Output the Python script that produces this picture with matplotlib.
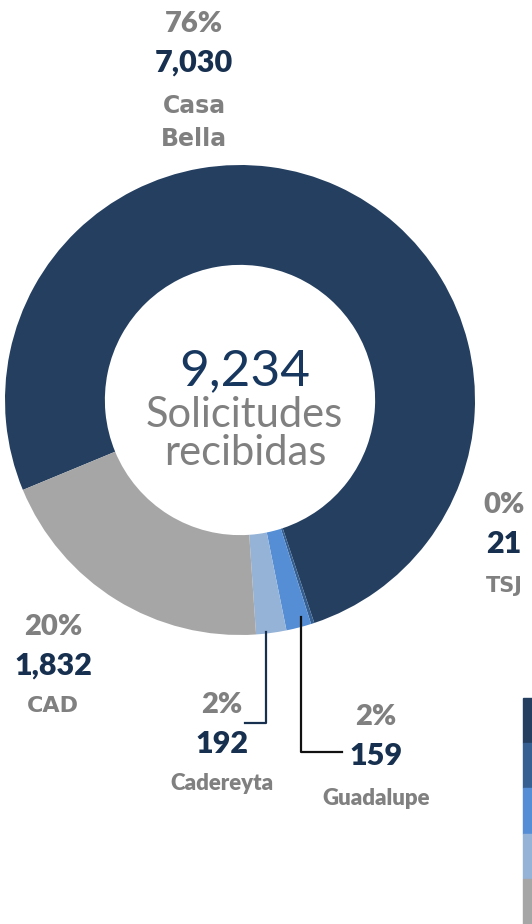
import matplotlib.pyplot as plt
from matplotlib.patches import Rectangle
from matplotlib.lines import Line2D

# Datos
sedes = ['Casa Bella', 'TSJ', 'Guadalupe', 'Cadereyta', 'CAD']
solicitudes = [7030, 21, 159, 192, 1832]
colores = ['#243F60', '#366092', '#558ED5', '#95B3D7', '#A6A6A6']
total = sum(solicitudes)

W, H = 532, 924
NAVY = '#17304F'
GRIS = '#808080'

fig = plt.figure(figsize=(W / 100, H / 100), dpi=100)


def px(x, y):
    # pixeles (desde arriba-izquierda) a coordenadas de figura
    return x / W, 1 - y / H


# Dona: centro (240, 400), radio 235 px
cx, cy, r = 240, 400, 235
ax = fig.add_axes([(cx - r) / W, 1 - (cy + r) / H, 2 * r / W, 2 * r / H])
ax.pie(solicitudes, colors=colores, startangle=202.5, counterclock=False,
       radius=1, wedgeprops=dict(width=0.425, linewidth=0))
ax.set_xlim(-1, 1)
ax.set_ylim(-1, 1)
ax.set_aspect('equal')
ax.axis('off')

# Texto central
fig.text(*px(245, 385), f'{total:,}', ha='center', va='baseline',
         fontsize=37, color='#17375E', family='Lato', weight='normal')
fig.text(*px(244, 427), 'Solicitudes', ha='center', va='baseline',
         fontsize=30, color=GRIS, family='Lato', weight='normal')
fig.text(*px(245, 465), 'recibidas', ha='center', va='baseline',
         fontsize=30, color=GRIS, family='Lato', weight='normal')

# Etiquetas de cada sede: (x centro, baseline %, baseline valor, baselines nombre, tamaño, fuente)
etiquetas = {
    'Casa Bella': (194, 32, 72, [(113, 'Casa'), (146, 'Bella')], 17, 'DejaVu Sans'),
    'TSJ': (504, 513, 553, [(592, 'TSJ')], 15, 'DejaVu Sans'),
    'CAD': (53, 635, 675, [(712, 'CAD')], 16, 'DejaVu Sans'),
    'Cadereyta': (222, 713, 753, [(790, 'Cadereyta')], 16, 'Lato'),
    'Guadalupe': (376, 725, 765, [(805, 'Guadalupe')], 16, 'Lato'),
}
for sede, valor in zip(sedes, solicitudes):
    x, yp, yv, nombres, fs, fam = etiquetas[sede]
    pct = round(100 * valor / total)
    fig.text(*px(x, yp), f'{pct}%', ha='center', va='baseline',
             fontsize=21, color=GRIS, family='Lato', weight='heavy')
    fig.text(*px(x, yv), f'{valor:,}', ha='center', va='baseline',
             fontsize=22, color=NAVY, family='Lato', weight='heavy')
    for yn, txt in nombres:
        fig.text(*px(x, yn), txt, ha='center', va='baseline',
                 fontsize=fs, color=GRIS, family=fam,
                 weight='bold' if fam == 'DejaVu Sans' else 'heavy')

# Lineas guia
for xs, ys, c in [([266, 266, 245], [632, 723, 723], '#17304F'),
                  ([301, 301, 342], [617, 752, 752], '#111111')]:
    fx = [x / W for x in xs]
    fy = [1 - y / H for y in ys]
    fig.add_artist(Line2D(fx, fy, color=c, lw=1.6, transform=fig.transFigure))

# Leyenda recortada al borde derecho
alto = 45.2
for i, c in enumerate(colores):
    y0 = 698 + i * alto
    fig.add_artist(Rectangle(px(523, y0 + alto), 20 / W, alto / H,
                             color=c, transform=fig.transFigure))

plt.savefig('out.png', dpi=100)
